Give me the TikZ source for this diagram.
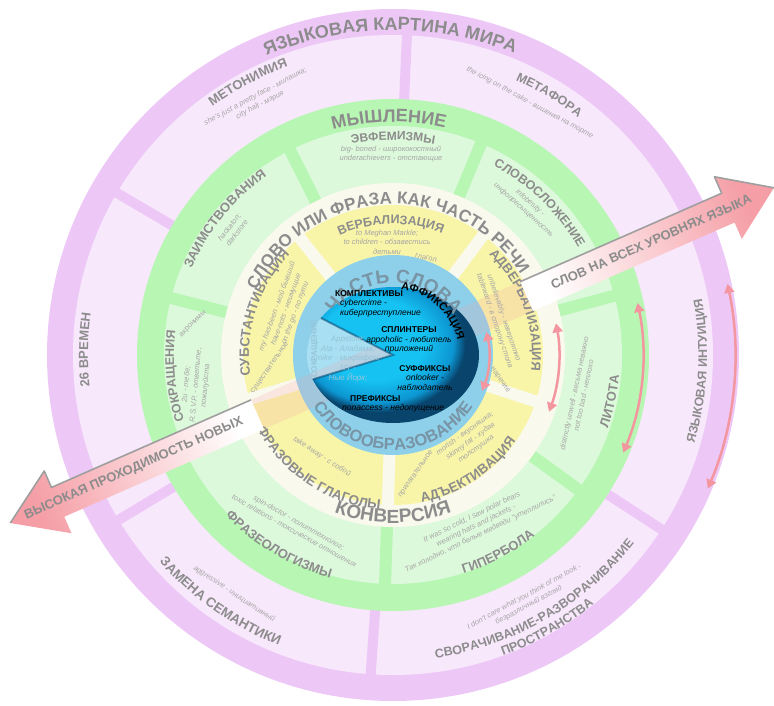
\documentclass[tikz,border=0pt]{standalone}
\usepackage{fontspec}
\setmainfont{Liberation Sans}
\usetikzlibrary{arrows.meta, decorations.text}

\definecolor{darkpink}{RGB}{237,200,247}
\definecolor{lightpink}{RGB}{248,232,252}
\definecolor{greenband}{RGB}{184,246,180}
\definecolor{lightgreen}{RGB}{221,249,219}
\definecolor{creamring}{RGB}{249,249,238}
\definecolor{yellowring}{RGB}{249,245,168}
\definecolor{bluering}{RGB}{142,208,234}
\definecolor{wedgeblue}{RGB}{168,223,243}
\definecolor{corelight}{RGB}{22,194,242}
\definecolor{coremid}{RGB}{12,150,210}
\definecolor{coredark}{RGB}{8,68,108}
\definecolor{titlegray}{RGB}{140,140,140}
\definecolor{bluetitle}{RGB}{120,148,165}
\definecolor{exgray}{RGB}{166,166,166}
\definecolor{wedgetext}{RGB}{150,196,216}
\definecolor{arcred}{RGB}{243,150,160}
\definecolor{arrowpink}{RGB}{245,158,166}

\newcommand{\tsz}[1]{\bfseries\fontsize{#1}{#1}\selectfont}
\newcommand{\esz}{\itshape\fontsize{7.5}{9.6}\selectfont}

\pgfdeclareradialshading{coreball}{\pgfpoint{-8bp}{8bp}}{color(0bp)=(corelight); color(15bp)=(corelight); color(22bp)=(coremid); color(25bp)=(coredark); color(50bp)=(coredark)}

\begin{document}
\begin{tikzpicture}[x=1pt, y=1pt,
    ringtext/.style={decorate, decoration={text along path, text align=center, text color=titlegray}},
    example/.style={text=exgray, font=\esz, align=center, inner sep=0pt}]
  \tikzstyle{pinksep}=[draw=darkpink, line width=10pt]
  \tikzstyle{greensep}=[draw=greenband, line width=12pt]
  \tikzstyle{creamsep}=[draw=creamring, line width=12pt]
  \tikzstyle{smallnote}=[text=exgray, font=\fontsize{7.5}{9}\selectfont, inner sep=0pt]
  \tikzstyle{coretext}=[text=black, font=\fontsize{8.5}{9.6}\selectfont, inner sep=0pt]
  \tikzstyle{wedgenote}=[text=wedgetext, font=\fontsize{8}{9.8}\selectfont, inner sep=0pt]
  \tikzstyle{arrowtext}=[text=titlegray, font=\tsz{13}, inner sep=0pt]
  \tikzstyle{arrowedge}=[draw=gray!75, line width=1.6pt, line join=round]
  \tikzstyle{bidir}=[draw=arcred, line width=2.5pt, {Triangle[length=9pt,width=10pt]}-{Triangle[length=9pt,width=10pt]}]

  \useasboundingbox (-393,-350) rectangle (381,355);

  % the big arrow, along one axis through the centre
  \begin{scope}[rotate=23.7]
    \coordinate (ra1) at (146,-16);
    \coordinate (ra2) at (366,-16);
    \coordinate (ra3) at (366,-34);
    \coordinate (ra4) at (416,0);
    \coordinate (ra5) at (366,34);
    \coordinate (ra6) at (366,16);
    \coordinate (ra7) at (146,16);
    \coordinate (la1) at (-148,16);
    \coordinate (la2) at (-366,16);
    \coordinate (la3) at (-366,34);
    \coordinate (la4) at (-418,0);
    \coordinate (la5) at (-366,-34);
    \coordinate (la6) at (-366,-16);
    \coordinate (la7) at (-148,-16);
    \coordinate (rtext) at (282,0);
    \coordinate (ltext) at (-283,0);
  \end{scope}

  % rings
  \fill[darkpink] (0,0) circle (346);
  \fill[lightpink] (0,0) circle (320);
  \foreach \a in {24,87.5,149.6,211,266,327}
    \draw[pinksep] (\a:250) -- (\a:326);
  \fill[greenband] (0,0) circle (256);
  \fill[lightgreen] (0,0) circle (229);
  \foreach \a in {15,67.4,116.7,165.6,204,268,324}
    \draw[greensep] (\a:165) -- (\a:235);
  \fill[creamring] (0,0) circle (172);
  \fill[yellowring] (0,0) circle (150);
  \foreach \a in {53,128.5,197,268,342}
    \draw[creamsep] (\a:95) -- (\a:156);
  \fill[bluering] (0,0) circle (100);

  % core
  \fill[wedgeblue] (0,0) -- (147:86 and 68) arc[start angle=147, end angle=201, x radius=86, y radius=68] -- cycle;
  \fill[arrowpink, opacity=0.2] (ra1) -- (ra7) -- (la1) -- (la7) -- cycle;
  \begin{scope}
    \clip (0,0) -- (201:86 and 68) arc[start angle=201, end angle=507, x radius=86, y radius=68] -- cycle;
    \shade[shading=coreball] (0,0) ellipse [x radius=86, y radius=68];
  \end{scope}
  \draw[coredark, opacity=0.55, line width=2pt] (147:86 and 68) -- (0,0) -- (201:86 and 68);

  % outer ring
  \path[ringtext, decoration={text={|\tsz{18}|ЯЗЫКОВАЯ КАРТИНА МИРА}}] (140.5:325) arc[start angle=140.5, end angle=40.5, radius=325];
  \path[ringtext, decoration={text={|\tsz{13}|МЕТОНИМИЯ}}] (143:307) arc[start angle=143, end angle=93, radius=307];
  \path[ringtext, decoration={text={|\tsz{12.5}|МЕТАФОРА}}] (84:301) arc[start angle=84, end angle=34, radius=301];
  \path[ringtext, decoration={text={|\tsz{13}|26 ВРЕМЕН}}] (204:305) arc[start angle=204, end angle=154, radius=305];
  \path[ringtext, decoration={text={|\tsz{13.5}|ЗАМЕНА СЕМАНТИКИ}}] (205:312) arc[start angle=205, end angle=265, radius=312];
  \path[ringtext, decoration={text={|\tsz{12.5}|СВОРАЧИВАНИЕ-РАЗВОРАЧИВАНИЕ}}] (-95:306) arc[start angle=-95, end angle=-25, radius=306];
  \path[ringtext, decoration={text={|\tsz{12.5}|ПРОСТРАНСТВА}}] (-85.5:320) arc[start angle=-85.5, end angle=-35.5, radius=320];
  \path[ringtext, decoration={text={|\tsz{12.5}|ЯЗЫКОВАЯ ИНТУИЦИЯ}}] (-33:314) arc[start angle=-33, end angle=27, radius=314];

  \node[example, rotate=28] (metonymyEx) at (118:288) {she's just a pretty face - милашка;\\city hall - мэрия};
  \node[example, rotate=-28.5] (metaphorEx) at (61.5:287) {the icing on the cake - вишенка на торте};
  \node[example, rotate=-33.6] (semanticsEx) at (236.4:287) {aggressive - инициативный};
  \node[example, rotate=28.5] (foldingEx) at (-61.5:280) {I don't care what you think of me look -\\безразличный взгляд};

  % green ring
  \path[ringtext, decoration={text={|\tsz{18}|МЫШЛЕНИЕ}}] (121:233) arc[start angle=121, end angle=61, radius=233];
  \path[ringtext, decoration={text={|\tsz{12}|ЭВФЕМИЗМЫ}}] (115:215) arc[start angle=115, end angle=65, radius=215];
  \path[ringtext, decoration={text={|\tsz{12.5}|СЛОВОСЛОЖЕНИЕ}}] (76:214) arc[start angle=76, end angle=16, radius=214];
  \path[ringtext, decoration={text={|\tsz{13}|ЛИТОТА}}] (-37:227) arc[start angle=-37, end angle=13, radius=227];
  \path[ringtext, decoration={text={|\tsz{13}|ГИПЕРБОЛА}}] (-87:230) arc[start angle=-87, end angle=-37, radius=230];
  \path[ringtext, decoration={text={|\tsz{13}|ФРАЗЕОЛОГИЗМЫ}}] (209:232) arc[start angle=209, end angle=269, radius=232];
  \path[ringtext, decoration={text={|\tsz{12.5}|СОКРАЩЕНИЯ}}] (210.5:219) arc[start angle=210.5, end angle=160.5, radius=219];
  \path[ringtext, decoration={text={|\tsz{13}|ЗАИМСТВОВАНИЯ}}] (166:219) arc[start angle=166, end angle=116, radius=219];

  \node[example] (euphemismEx) at (-2,201) {big- boned - ширококостный\\underachievers - отстающие};
  \node[example, rotate=-42] (compoundEx) at (48:200) {infobesity -\\инфопресыщенность};
  \node[example, rotate=78] (litotesEx) at (-12:190) {distinctly unwell - весьма неважно\\not too bad - неплохо};
  \node[example, rotate=26] (hyperboleEx) at (-64:190) {It was so cold, I saw polar bears\\wearing hats and jackets -\\Так холодно, что белые медведи "утеплились"};
  \node[example, rotate=-29.3] (idiomEx) at (240.7:197) {spin-doctor - политтехнолог;\\toxic relations - токсические отношения};
  \node[smallnote, rotate=45] (acronymNote) at (-200,31) {акронимы};
  \node[example, rotate=85] (clippingEx) at (-197,-30) {2u - тебе;\\R.S.V.P. - ответьте,\\пожалуйста};
  \node[example, rotate=52] (borrowingEx) at (142:203) {hackaton;\\darkstore};

  % cream and yellow rings
  \path[ringtext, decoration={text={|\tsz{17}|СЛОВО ИЛИ ФРАЗА КАК ЧАСТЬ РЕЧИ}}] (168.5:151) arc[start angle=168.5, end angle=18.5, radius=151];
  \path[ringtext, decoration={text={|\tsz{19}|КОНВЕРСИЯ}}] (230:168) arc[start angle=230, end angle=310, radius=168];
  \path[ringtext, decoration={text={|\tsz{12.5}|ВЕРБАЛИЗАЦИЯ}}] (126:131) arc[start angle=126, end angle=56, radius=131];
  \path[ringtext, decoration={text={|\tsz{13}|АДВЕРБАЛИЗАЦИЯ}}] (60:139) arc[start angle=60, end angle=-20, radius=139];
  \path[ringtext, decoration={text={|\tsz{13.5}|АДЪЕКТИВАЦИЯ}}] (-92:150) arc[start angle=-92, end angle=-22, radius=150];
  \path[ringtext, decoration={text={|\tsz{13.5}|ФРАЗОВЫЕ ГЛАГОЛЫ}}] (197:155) arc[start angle=197, end angle=277, radius=155];
  \path[ringtext, decoration={text={|\tsz{13.5}|СУБСТАНТИВАЦИЯ}}] (202:144) arc[start angle=202, end angle=122, radius=144];

  \node[example] (verbEx) at (-6,113) {to Meghan Markle;\\to children - обзавестись\\детьми};
  \node[example, rotate=-71.5] (adverbEx) at (18.5:112) {unbelievably - невероятно\\tableward - в сторону стола};
  \node[example, rotate=36] (adjectiveEx) at (-48:116) {morish - вкусняшка;\\skinny fat - худая\\толстушка};
  \node[example, rotate=-33] (phrasalEx) at (235:124) {take away - с собой};
  \node[example, rotate=70] (nounEx) at (157:116) {my has-been - мой бывший\\have-nots - неимущие\\on the go - по пути};

  \node[smallnote, rotate=-12] (verbNote) at (33,97) {глагол};
  \node[smallnote, rotate=-55] (adverbNote) at (107,-25) {наречие};
  \node[smallnote, rotate=55] (adjectiveNote) at (23,-119) {прилагательное};
  \node[smallnote, rotate=55] (nounNote) at (-123,-13) {существительное};

  % blue ring and core
  \path[ringtext, decoration={text color=bluetitle, text={|\tsz{19}|ЧАСТЬ СЛОВА}}] (159:72) arc[start angle=159, end angle=19, radius=72];
  \path[ringtext, decoration={text color=bluetitle, text={|\tsz{16.5}|СЛОВООБРАЗОВАНИЕ}}] (195:95) arc[start angle=195, end angle=345, radius=95];
  \path[ringtext, decoration={text color=black, text={|\tsz{11}|АФФИКСАЦИЯ}}] (98:66) arc[start angle=98, end angle=-2, radius=66];

  \node[coretext, anchor=north west, align=left] (complexive) at (-58,65) {\textbf{КОМПЛЕКТИВЫ}\\\hspace*{5pt}\textit{cybercrime -}\\\hspace*{5pt}\textit{киберпреступление}};
  \node[coretext, align=center] (splinter) at (16,15) {\textbf{СПЛИНТЕРЫ}\\\textit{appoholic - любитель}\\\textit{приложений}};
  \node[coretext, align=center] (suffix) at (32,-23) {\textbf{СУФФИКСЫ}\\\textit{onlooker -}\\\textit{наблюдатель}};
  \node[coretext, anchor=west, align=left] (prefix) at (-51,-49) {\hspace*{8pt}\textbf{ПРЕФИКСЫ}\\\textit{nonaccess - недопущение}};
  \node[wedgenote, rotate=90] (clipping) at (-78,6) {\textbf{СОКРАЩЕНИЕ}};
  \node[wedgenote, align=center, font=\fontsize{8}{9.8}\selectfont\itshape] (clippingEx2) at (-45,-4) {Appstore;\\Ala - Алабама;\\mike - микрофон;\\NY -\\Нью Йорк;};

  % arrow
  \shade[left color=white, right color=arrowpink, shading angle=113.7] (ra1) -- (ra2) -- (ra3) -- (ra4) -- (ra5) -- (ra6) -- (ra7) -- cycle;
  \draw[arrowedge] (ra7) -- (ra6) -- (ra5) -- (ra4);
  \shade[left color=arrowpink, right color=white, shading angle=113.7] (la1) -- (la2) -- (la3) -- (la4) -- (la5) -- (la6) -- (la7) -- cycle;
  \draw[arrowedge] (la1) -- (la2) -- (la3) -- (la4);
  \node[arrowtext, rotate=23.7] (levels) at (rtext) {СЛОВ НА ВСЕХ УРОВНЯХ ЯЗЫКА};
  \node[arrowtext, rotate=23.7] (passability) at (ltext) {ВЫСОКАЯ ПРОХОДИМОСТЬ НОВЫХ};

  % two-way arcs
  \draw[bidir] (14:96) arc[start angle=14, end angle=-22, radius=96];
  \draw[bidir] (11:166) arc[start angle=11, end angle=-20, radius=166];
  \draw[bidir] (12:250) arc[start angle=12, end angle=-23, radius=250];
  \draw[bidir] (12:342) arc[start angle=12, end angle=-23, radius=342];
\end{tikzpicture}
\end{document}
